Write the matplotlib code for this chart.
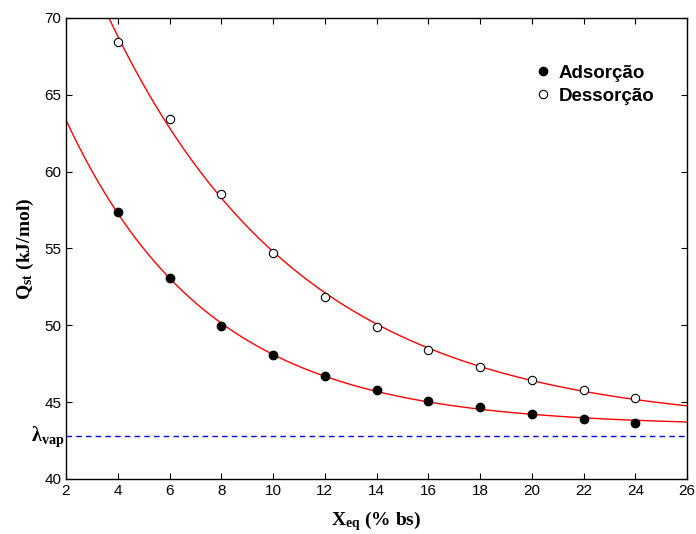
import matplotlib
matplotlib.use('Agg')
import matplotlib.pyplot as plt
import numpy as np

plt.rcParams['font.family'] = ['Liberation Sans', 'DejaVu Sans']
plt.rcParams['mathtext.fontset'] = 'custom'
plt.rcParams['mathtext.rm'] = 'Liberation Serif:bold'
plt.rcParams['mathtext.bf'] = 'Liberation Serif:bold'
plt.rcParams['mathtext.it'] = 'Liberation Serif:bold'

# dados
x_eq = [4, 6, 8, 10, 12, 14, 16, 18, 20, 22, 24]
q_ads = [57.35, 53.05, 49.98, 48.1, 46.72, 45.8, 45.09, 44.7, 44.22, 43.91, 43.65]
q_des = [68.44, 63.42, 58.53, 54.68, 51.87, 49.91, 48.41, 47.3, 46.46, 45.8, 45.3]
lambda_vap = 42.78


def exp_fit(x, y):
    # y = a + b*exp(-c*x), busca em c e minimos quadrados em a, b
    x = np.asarray(x, float)
    y = np.asarray(y, float)
    best = None
    for c in np.linspace(0.01, 1.0, 2000):
        A = np.column_stack([np.ones_like(x), np.exp(-c * x)])
        coef, res, _, _ = np.linalg.lstsq(A, y, rcond=None)
        err = np.sum((A @ coef - y) ** 2)
        if best is None or err < best[0]:
            best = (err, coef[0], coef[1], c)
    _, a, b, c = best
    return lambda t: a + b * np.exp(-c * t)


fig = plt.figure(figsize=(6.96, 5.34), dpi=100)
ax = fig.add_axes([66 / 696, 55 / 534, 621 / 696, 461 / 534])

xx = np.linspace(2, 26, 300)
ax.plot(xx, exp_fit(x_eq, q_ads)(xx), color='red', lw=1)
ax.plot(xx, exp_fit(x_eq, q_des)(xx), color='red', lw=1)
ax.axhline(lambda_vap, color='blue', lw=1, ls=(0, (4, 3)))

ax.plot(x_eq, q_ads, 'o', color='black', ms=6, label='Adsorção', zorder=3)
ax.plot(x_eq, q_des, 'o', mfc='white', mec='black', mew=0.8, ms=6,
        label='Dessorção', zorder=3)

ax.set_xlim(2, 26)
ax.set_ylim(40, 70)
ax.set_xticks(range(2, 27, 2))
ax.set_yticks(range(40, 71, 5))
ax.tick_params(direction='in', top=True, right=True, labelsize=11, length=4)
for s in ax.spines.values():
    s.set_linewidth(1)

ax.set_xlabel(r'$\mathbf{X_{eq}}$ (% bs)', family='Liberation Serif',
              fontweight='bold', fontsize=14, labelpad=8)
ax.set_ylabel(r'$\mathbf{Q_{st}}$ (kJ/mol)', family='Liberation Serif',
              fontweight='bold', fontsize=14, labelpad=6)

ax.text(-0.002, lambda_vap, r'$\mathbf{λ}_{\mathrm{vap}}$', transform=ax.get_yaxis_transform(),
        ha='right', va='center', fontsize=14.5)

leg = ax.legend(loc='upper left', bbox_to_anchor=(0.744, 0.915), frameon=False,
                prop={'weight': 'bold', 'size': 13.5}, handlelength=0.8,
                handletextpad=0.45, labelspacing=0.3, borderaxespad=0)

fig.savefig('out.png', dpi=100)
